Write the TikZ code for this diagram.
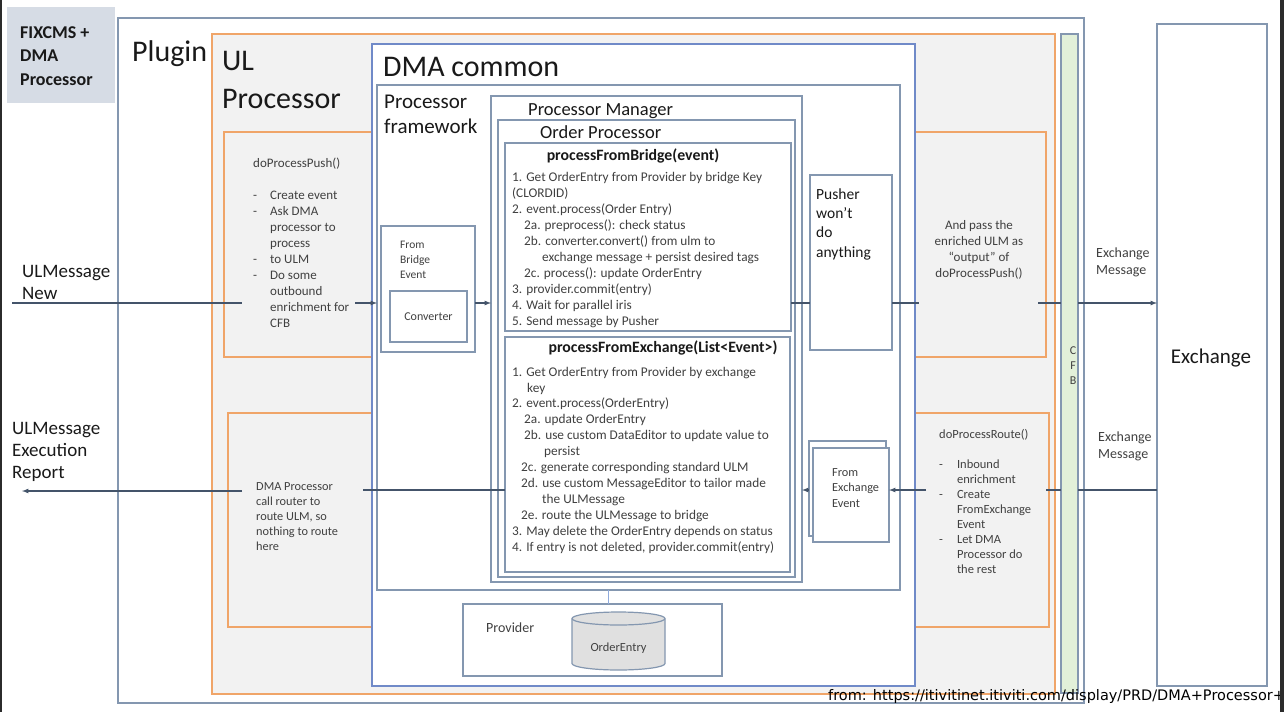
\documentclass[tikz,border=0pt]{standalone}
\usepackage{fontspec}
\setmainfont{Carlito}
\newfontfamily\urlfont{DejaVu Sans}
\usepackage{tikz}
\usetikzlibrary{shapes,arrows,positioning}
\definecolor{boxgray}{RGB}{132,151,176}
\definecolor{linegray}{RGB}{68,84,106}
\definecolor{dmablue}{RGB}{112,138,200}
\definecolor{ulorange}{RGB}{240,165,105}
\definecolor{ulfill}{RGB}{242,242,242}
\definecolor{hostfill}{RGB}{214,220,229}
\definecolor{cfbgreen}{RGB}{226,240,217}
\definecolor{dbfill}{RGB}{224,224,224}
\definecolor{linkblue}{RGB}{143,170,220}
\definecolor{titletext}{RGB}{25,25,25}
\definecolor{bodytext}{RGB}{64,64,64}
\definecolor{edgedark}{RGB}{43,43,43}
\tikzstyle{frame} = [draw=boxgray, line width=1.5pt, fill=white, inner sep=0pt, outer sep=0pt, anchor=north west]
\tikzstyle{ulbox} = [draw=ulorange, line width=1.5pt, fill=ulfill, inner sep=0pt, outer sep=0pt, anchor=north west]
\tikzstyle{dmabox} = [frame, draw=dmablue]
\tikzstyle{dbline} = [draw=boxgray, line width=1.2pt]
\tikzstyle{dbend} = [x radius=46.5pt, y radius=6.5pt]
\tikzstyle{bigtitle} = [text=titletext, inner sep=0pt, anchor=base west, align=left, font=\fontsize{30}{38}\selectfont]
\tikzstyle{boxtitle} = [text=titletext, inner sep=0pt, anchor=base west, align=left]
\tikzstyle{steps} = [text=bodytext, inner sep=0pt, anchor=base west, align=left, font=\fontsize{13.3}{15.9}\selectfont]
\tikzstyle{note} = [text=bodytext, inner sep=0pt, anchor=base west, align=left]
\tikzstyle{tedge} = [draw=linegray, line width=1.2pt, >=latex, ->]
\tikzstyle{tline} = [draw=linegray, line width=1.2pt]

\begin{document}
\begin{tikzpicture}[x=1pt, y=-1pt]
\useasboundingbox (0,0) rectangle (1284,712);

% containers =============================
\node[frame, minimum width=966pt, minimum height=685pt] (plugin) at (118,18) {};
\node[ulbox, below right=16pt and 94pt of plugin.north west, minimum width=843pt, minimum height=660pt] (ulproc) {};
\node[ulbox, below right=98pt and 12pt of ulproc.north west, minimum width=160pt, minimum height=225pt] (pushbox) {};
\node[ulbox, below right=379pt and 16pt of ulproc.north west, minimum width=156pt, minimum height=214pt] (routebox) {};
\node[ulbox, below left=98pt and 9pt of ulproc.north east, minimum width=141pt, minimum height=225pt] (passbox) {};
\node[ulbox, below left=379pt and 6pt of ulproc.north east, minimum width=144pt, minimum height=214pt] (inboundbox) {};
\node[dmabox, below right=10pt and 160pt of ulproc.north west, minimum width=543pt, minimum height=642pt] (dmacommon) {};

% processor framework
\node[frame, below right=41pt and 5pt of dmacommon.north west, minimum width=523pt, minimum height=505pt] (framework) {};
\node[frame, below right=141pt and 4pt of framework.north west, minimum width=94pt, minimum height=126pt] (frombridge) {};
\node[frame, below right=65pt and 9pt of frombridge.north west, minimum width=77pt, minimum height=51pt] (converter) {};
\node[frame, below right=11pt and 114pt of framework.north west, minimum width=311pt, minimum height=486pt] (manager) {};
\node[frame, below right=24pt and 7pt of manager.north west, minimum width=297pt, minimum height=457pt] (orderproc) {};
\node[frame, below right=23pt and 7pt of orderproc.north west, minimum width=286pt, minimum height=188pt] (pfb) {};
\node[frame, below right=6pt and 0pt of pfb.south west, minimum width=285pt, minimum height=235pt] (pfe) {};
\node[frame, below right=79pt and 8pt of manager.north east, minimum width=82pt, minimum height=175pt] (pusher) {};
\node[frame, below right=345pt and 7pt of manager.north east, minimum width=77pt, minimum height=95pt] (fexback) {};
\node[frame, below right=7pt and 4pt of fexback.north west, minimum width=76pt, minimum height=94pt] (fexfront) {};

% provider
\node[frame, below right=14pt and 86pt of framework.south west, minimum width=259pt, minimum height=72pt] (provider) {};
% order entry store
\path[dbline, fill=dbfill] (572,618.5) -- (572,663.5) arc[start angle=180, end angle=360, dbend] -- (665,618.5) arc[start angle=0, end angle=180, dbend] -- cycle;
\path[dbline] (572,618.5) arc[start angle=180, end angle=360, dbend];

% cfb and exchange
\node[frame, fill=cfbgreen, below right=0pt and 6pt of ulproc.north east, minimum width=17pt, minimum height=659pt] (cfb) {};
\node[frame, minimum width=110pt, minimum height=662pt] (exchange) at (1157,24) {};
\node[frame, draw=none, fill=hostfill, minimum width=108pt, minimum height=96pt] (host) at (7,7) {};

% labels (multi-line nodes sit on their last line) =============
\node[boxtitle, font=\bfseries\fontsize{18}{23.5}\selectfont] (hostlabel) at (20,85) {FIXCMS +\\DMA\\Processor};
\node[bigtitle] (pluginlabel) at (132,61) {Plugin};
\node[bigtitle] (ulproclabel) at (222,108) {UL\\Processor};
\node[bigtitle] (dmalabel) at (383,76) {DMA common};
\node[boxtitle, font=\fontsize{21}{25}\selectfont] (frameworklabel) at (384,133) {Processor\\framework};
\node[boxtitle, font=\fontsize{18.5}{22}\selectfont] (managerlabel) at (528,115) {Processor Manager};
\node[boxtitle, font=\fontsize{18.5}{22}\selectfont] (orderproclabel) at (540,138) {Order Processor};
\node[boxtitle, anchor=base, font=\bfseries\fontsize{15.8}{19}\selectfont] (pfblabel) at (633,160) {processFromBridge(event)};
\node[boxtitle, anchor=base, font=\bfseries\fontsize{15.8}{19}\selectfont] (pfelabel) at (663,352) {processFromExchange(List<Event>)};

\node[steps] (pfbsteps) at (512,325) {1. Get OrderEntry from Provider by bridge Key\\
(CLORDID)\\
2. event.process(Order Entry)\\
\hspace*{12pt}2a. preprocess(): check status\\
\hspace*{12pt}2b. converter.convert() from ulm to\\
\hspace*{30pt}exchange message + persist desired tags\\
\hspace*{12pt}2c. process(): update OrderEntry\\
3. provider.commit(entry)\\
4. Wait for parallel iris\\
5. Send message by Pusher};

\node[steps] (pfesteps) at (512,551) {1. Get OrderEntry from Provider by exchange\\
\hspace*{15pt}key\\
2. event.process(OrderEntry)\\
\hspace*{12pt}2a. update OrderEntry\\
\hspace*{12pt}2b. use custom DataEditor to update value to\\
\hspace*{32pt}persist\\
\hspace*{9pt}2c. generate corresponding standard ULM\\
\hspace*{9pt}2d. use custom MessageEditor to tailor made\\
\hspace*{30pt}the ULMessage\\
\hspace*{9pt}2e. route the ULMessage to bridge\\
3. May delete the OrderEntry depends on status\\
4. If entry is not deleted, provider.commit(entry)};

\node[note, font=\fontsize{11.5}{15}\selectfont] (frombridgelabel) at (400,278) {From\\Bridge\\Event};
\node[note, anchor=center, font=\fontsize{12}{15}\selectfont] (converterlabel) at (converter.center) {Converter};
\node[boxtitle, font=\fontsize{15.5}{19.3}\selectfont] (pusherlabel) at (816,257) {Pusher\\won’t\\do\\anything};
\node[note, font=\fontsize{12.3}{15.5}\selectfont] (fexlabel) at (832,507) {From\\Exchange\\Event};
\node[note, font=\fontsize{14}{17}\selectfont] (providerlabel) at (486,632) {Provider};
\node[note, anchor=center, font=\fontsize{12.4}{15}\selectfont] (orderdblabel) at (618.5,648) {OrderEntry};

\node[note, font=\fontsize{13}{16}\selectfont] (pushlabel) at (253,167) {\begin{tabular}[t]{@{}l@{\hspace{13pt}}l@{}}
\multicolumn{2}{@{}l@{}}{doProcessPush()}\\
\\
- & Create event\\
- & Ask DMA\\
  & processor to\\
  & process\\
- & to ULM\\
- & Do some\\
  & outbound\\
  & enrichment for\\
  & CFB
\end{tabular}};
\node[note, font=\fontsize{12.5}{15}\selectfont] (inboundlabel) at (939,438) {\begin{tabular}[t]{@{}l@{\hspace{14pt}}l@{}}
\multicolumn{2}{@{}l@{}}{doProcessRoute()}\\
\\
- & Inbound\\
  & enrichment\\
- & Create\\
  & FromExchange\\
  & Event\\
- & Let DMA\\
  & Processor do\\
  & the rest
\end{tabular}};
\node[note, font=\fontsize{12.3}{15}\selectfont] (routelabel) at (256,550) {DMA Processor\\call router to\\route ULM, so\\nothing to route\\here};
\node[note, anchor=base, align=center, font=\fontsize{13}{15.7}\selectfont] (passlabel) at (979,277) {And pass the\\enriched ULM as\\“output” of\\doProcessPush()};
\node[note, align=center, anchor=base, font=\fontsize{12}{15}\selectfont] (cfblabel) at (1073,384) {C\\F\\B};
\node[boxtitle, anchor=base, font=\fontsize{21}{25}\selectfont] (exchangelabel) at (1211,363) {Exchange};
\node[note, font=\fontsize{14}{17}\selectfont] (exmsgout) at (1096,274) {Exchange\\Message};
\node[note, font=\fontsize{14}{17}\selectfont] (exmsgin) at (1098,458) {Exchange\\Message};
\node[boxtitle, font=\fontsize{19}{22}\selectfont] (ulmnew) at (22,299) {ULMessage\\New};
\node[boxtitle, font=\fontsize{19}{22}\selectfont] (ulmreport) at (12,478) {ULMessage\\Execution\\Report};

% edges =============================
\coordinate (pushin) at (12,303);
\coordinate (pushtext) at (242,303);
\coordinate (pushout) at (355,303);
\coordinate (passin) at (919,303);
\coordinate (passout) at (1038,303);
\coordinate (routein) at (1046,490);
\coordinate (routeout) at (926,490);
\coordinate (ulmin) at (363,490);
\coordinate (ulmtext) at (242,491);
\coordinate (ulmout) at (22,491);
\coordinate (dbtap) at (608,0);

\path[tline] (pushin) -- (pushtext);
\path[tedge] (pushout) -- (framework.west |- pushout);
\path[tedge] (frombridge.east |- pushout) -- (manager.west |- pushout);
\path[tline] (pfb.east |- pushout) -- (pusher.west |- pushout);
\path[tline] (pusher.east |- pushout) -- (passin);
\path[tline] (passout) -- (cfb.west |- pushout);
\path[tedge] (cfb.east |- pushout) -- (exchange.west |- pushout);

\path[tline] (exchange.west |- routein) -- (cfb.east |- routein);
\path[tline] (cfb.west |- routein) -- (routein);
\path[tedge] (routeout) -- (fexfront.east |- routeout);
\path[tedge] (fexback.west |- routeout) -- (manager.east |- routeout);
\path[tline] (pfe.west |- ulmin) -- (ulmin);
\path[tedge] (ulmtext) -- (ulmout);

\path[draw=linkblue, line width=1pt] (framework.south -| dbtap) -- (provider.north -| dbtap);

% source note and screen edges
\node[inner sep=0pt, anchor=base west, font=\urlfont\fontsize{14.5}{17}\selectfont] (source) at (828,700) {from: https://itivitinet.itiviti.com/display/PRD/DMA+Processor+};
\node[fill=edgedark, inner sep=0pt, anchor=north west, minimum width=2pt, minimum height=712pt] (leftedge) at (0,0) {};
\node[fill=edgedark, inner sep=0pt, anchor=north west, minimum width=4pt, minimum height=712pt] (rightedge) at (1280,0) {};
\end{tikzpicture}
\end{document}
